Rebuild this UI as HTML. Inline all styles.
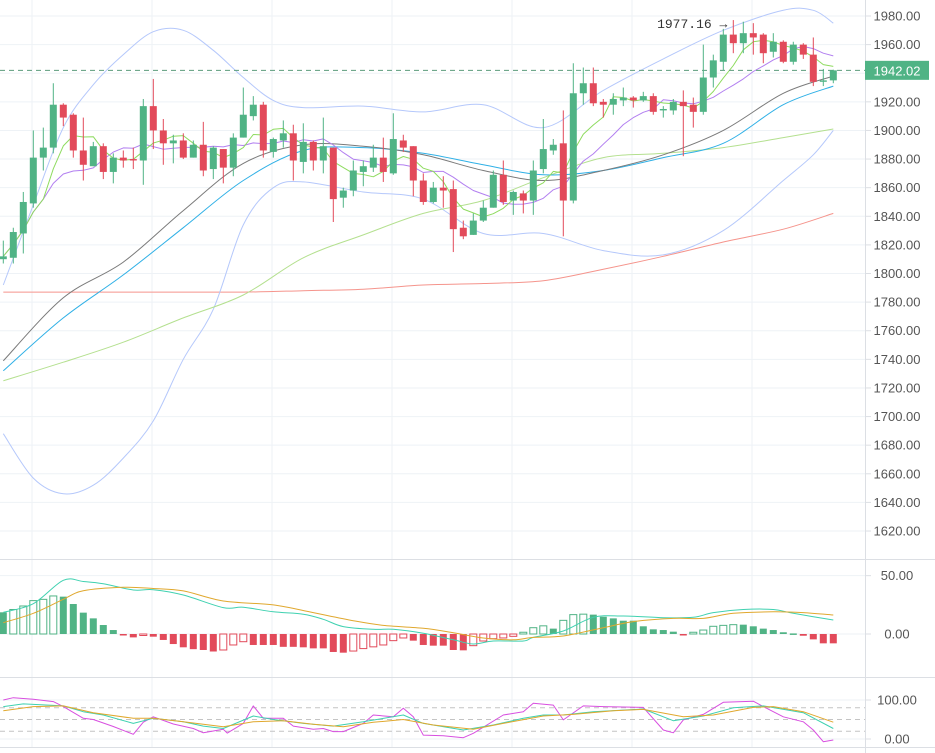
<!DOCTYPE html>
<html><head><meta charset="utf-8"><style>
html,body{margin:0;padding:0;background:#fff;}
svg{display:block;font-family:"Liberation Sans",sans-serif;}
</style></head><body>
<svg id="chart" width="935" height="753" viewBox="0 0 935 753" xmlns="http://www.w3.org/2000/svg"></svg>
<script>
// ---- data ----
const opens  = [1810,1811,1828,1849,1881,1888,1918,1911,1886,1875,1889,1871,1881,1880,1879,1917,1900,1891,1893,1881,1890,1873,1887,1874,1895,1910,1918,1885,1893,1898,1878,1892,1879,1888,1853,1858,1871,1874,1881,1870,1893,1889,1865,1850,1860,1859,1832,1827,1837,1846,1869,1851,1856,1851,1873,1886,1891,1851,1926,1933,1920,1918,1921,1923,1921,1924,1914,1914,1920,1918,1913,1937,1948,1967,1961,1968,1967,1955,1962,1948,1960,1953,1934,1935];
const highs  = [1823,1832,1857,1900,1902,1933,1919,1912,1909,1892,1891,1884,1886,1888,1922,1936,1908,1897,1898,1893,1906,1889,1887,1898,1930,1924,1920,1895,1907,1904,1905,1893,1909,1888,1860,1879,1879,1890,1895,1912,1897,1889,1870,1864,1868,1865,1837,1842,1851,1872,1879,1858,1858,1879,1908,1894,1914,1947,1944,1944,1922,1926,1930,1924,1927,1926,1917,1922,1928,1923,1960,1953,1971,1977.16,1976,1975,1968,1968,1963,1962,1961,1965,1943,1942.5];
const lows   = [1807,1807,1814,1846,1872,1884,1903,1881,1865,1875,1866,1863,1874,1873,1862,1887,1876,1877,1880,1881,1868,1866,1863,1868,1895,1907,1881,1881,1888,1865,1870,1872,1870,1836,1846,1854,1861,1871,1864,1869,1885,1854,1848,1849,1846,1815,1824,1827,1836,1846,1848,1841,1842,1841,1870,1883,1826,1849,1918,1917,1909,1911,1917,1916,1920,1911,1909,1911,1882,1902,1911,1930,1942,1954,1954,1953,1947,1951,1947,1946,1950,1931,1931,1933];
const closes = [1812,1829,1850,1881,1888,1918,1909,1886,1876,1889,1871,1881,1879,1879,1917,1900,1891,1893,1881,1890,1872,1888,1874,1895,1911,1918,1886,1894,1898,1879,1892,1879,1889,1852,1858,1872,1875,1881,1871,1894,1888,1865,1850,1860,1858,1831,1826,1837,1846,1869,1850,1857,1851,1872,1887,1890,1851,1926,1933,1919,1918,1922,1923,1921,1924,1913,1915,1920,1917,1913,1937,1949,1967,1961,1968,1965,1954,1962,1948,1960,1953,1934,1935,1942.02];
const lastPrice = 1942.02;
const priceTicks = [1980,1960,1940,1920,1900,1880,1860,1840,1820,1800,1780,1760,1740,1720,1700,1680,1660,1640,1620];
// sampled overlay lines (candle index -> price)
const sampleIdx = [0,6,12,18,24,30,36,42,48,54,60,66,72,78,83];
const ma200Vals = [1787,1787,1787,1787,1787,1788,1789,1792,1793,1795,1803,1812,1822,1831,1842];
const ma20Vals  = [1739,1783,1808,1844,1877,1890,1889,1883,1872,1865,1872,1883,1900,1926,1938];
const emaVals   = [1732,1769,1799,1832,1865,1886,1888,1884,1876,1869,1872,1881,1891,1918,1931];
const ma60Vals  = [1725,1738,1752,1769,1785,1811,1827,1842,1851,1867,1881,1884,1888,1895,1901];
const bandIdx   = [0,3,6,9,12,15,18,21,24,27,30,36,42,48,54,60,66,72,78,81,83];
const bollUpper = [1792,1848,1902,1932,1953,1969,1970,1956,1937,1921,1916,1917,1913,1918,1902,1928,1950,1970,1984,1984,1975];
const bollLower = [1688,1657,1646,1652,1671,1697,1740,1775,1834,1860,1864,1857,1852,1828,1828,1816,1813,1830,1865,1883,1900];
// MACD
const macdHist = [18.6,21,24,28.6,29.7,32.6,32,25.7,18.3,13.4,7.7,3.4,-0.6,-2.9,-0.6,-2.3,-5.1,-8.6,-11.4,-13,-13.7,-15,-13.7,-9.4,-6.6,-9.4,-9.4,-9.4,-11,-11,-11.4,-12.3,-12.3,-15.4,-16,-14.6,-12.5,-11,-9.4,-5.7,-3.4,-5.7,-9.4,-10,-10,-13.7,-14,-10,-6,-4,-3.4,-2,1.5,5.4,7,4.6,11.7,16.6,17,16.6,14.8,13.4,11.4,11.4,6.6,4,3.4,2,-1,1.5,3.4,6.6,7.4,8,8,6.6,4.6,3.4,1.5,0.5,-1.5,-4.6,-8,-8];
const macdTicks = [50,0];
const difIdx  = [0,3,6,8,10,13,15,18,22,24,27,30,32,34,37,39,42,45,47,49,52,53,56,59,62,66,69,71,74,77,79,83];
const difVals = [18.6,26,46,45,43,37.7,38,33.4,22.6,23,19,17,12.6,6.3,4,4,0.6,-5,-8.6,-6,-6,-2.9,2.6,14.3,15.4,14,14.3,18.3,21,21,17.7,12];
const deaIdx  = [0,3,6,8,12,15,18,22,27,31,35,38,42,45,48,51,53,56,60,63,67,70,73,77,80,83];
const deaVals = [9.7,17.7,29.7,37,40,39,36.9,28.3,24.9,18.3,11.4,7.4,4.9,1.1,-3.4,-5,-2.9,-1.7,5.4,10.6,13.4,13.4,17.7,19,18.3,16.3];
// KDJ
const kdjTicks = [100,0];
const kdjLevels = [80,50,20];
const jIdx  = [0,1,3,5,6,8,9,11,13,14,15,17,19,20,22,22.4,24,25,26,28,29,31,32,33,34,36,37,39,40,41,42,44,46,47,50,52,53,55,56,58,60,64,66,67,68,70,72,75,76,78,80,81,82,83];
const jVals = [100,106,102,96,83,53,50,32,12,43,57,38.5,27,16,25,15,40,85,53,53,33,25,27,19,19,40,61.5,57,79,57,10,8.5,3.4,14.5,61.5,70,91.5,87,49,85,83,81,23,16,49,63,94,97,83,57,44,23,-7,-2.6];
const kIdx  = [0,2,6,8,10,13,15,18,20,22,25,27,30,33,36,40,42,46,49,52,54,56,59,64,67,70,73,76,80,83];
const kVals = [83,90,85,70,61.5,40,53,44,33,27,59,50,40,33,44,61.5,40,23,36,53,61.5,61.5,70,77,47,59,80,85,67.5,27];
const dIdx  = [0,3,6,9,13,15,18,22,25,28,31,34,37,40,43,47,50,54,57,61,64,68,71,75,77,80,83];
const dVals = [72.6,83,85,67.5,53,53,44,31.6,44,47,37.6,31.6,42.7,50,36,25,40,59,63,72.6,76,57,61.5,81,83,70,43];

// ---- scales ----
const xC = i => 3.3 + 10*i;
const yP = p => 16 + (1980 - p) * 1.4306;
const yM = v => 634 - v * 1.167;
const yK = v => 739 - v * 0.39;
const NS = 'http://www.w3.org/2000/svg';
const svg = document.getElementById('chart');
const GREEN = '#50b385', RED = '#e24a5a';
function mk(tag, attrs, parent){
  const e = document.createElementNS(NS, tag);
  for (const k in attrs) e.setAttribute(k, attrs[k]);
  (parent||svg).appendChild(e);
  return e;
}
function ma(n){
  return closes.map((c,i)=>{const s=closes.slice(Math.max(0,i-n+1),i+1);return s.reduce((a,b)=>a+b,0)/s.length;});
}
function poly(idx, vals, yf, color, name, w){
  const pts = idx.map((ix,k)=>xC(ix).toFixed(1)+','+yf(vals[k]).toFixed(1)).join(' ');
  const l = mk('polyline',{points:pts,fill:'none',stroke:color,'stroke-width':w||1,'stroke-linejoin':'round'});
  
  
  return l;
}
function smooth(idx, vals, yf, color, name){
  const P = idx.map((ix,k)=>[xC(ix), yf(vals[k])]);
  let d = 'M'+P[0][0].toFixed(1)+','+P[0][1].toFixed(1);
  for (let i=0;i<P.length-1;i++){
    const p0=P[Math.max(0,i-1)], p1=P[i], p2=P[i+1], p3=P[Math.min(P.length-1,i+2)];
    const c1=[p1[0]+(p2[0]-p0[0])/6, p1[1]+(p2[1]-p0[1])/6];
    const c2=[p2[0]-(p3[0]-p1[0])/6, p2[1]-(p3[1]-p1[1])/6];
    d += ' C'+c1[0].toFixed(1)+','+c1[1].toFixed(1)+' '+c2[0].toFixed(1)+','+c2[1].toFixed(1)+' '+p2[0].toFixed(1)+','+p2[1].toFixed(1);
  }
  const l = mk('path',{d:d,fill:'none',stroke:color,'stroke-width':1});
  
  
  return l;
}

// ---- grid ----
const grid = mk('g',{});


[32,152,272,392,512,632,752].forEach(x=>mk('line',{x1:x,y1:0,x2:x,y2:747,stroke:'#eef2f6','stroke-width':1},grid));
priceTicks.forEach(p=>mk('line',{x1:0,y1:yP(p),x2:865,y2:yP(p),stroke:'#eef2f6'},grid));
macdTicks.forEach(v=>mk('line',{x1:0,y1:yM(v),x2:865,y2:yM(v),stroke:'#eef2f6'},grid));
kdjTicks.forEach(v=>mk('line',{x1:0,y1:yK(v),x2:865,y2:yK(v),stroke:'#eef2f6'},grid));
kdjLevels.forEach(v=>mk('line',{x1:0,y1:yK(v),x2:865,y2:yK(v),stroke:'#c4c4c4','stroke-dasharray':'5,4'},grid));
mk('line',{x1:0,y1:559.5,x2:935,y2:559.5,stroke:'#dcdfe4'});
mk('line',{x1:0,y1:677.5,x2:935,y2:677.5,stroke:'#dcdfe4'});
mk('line',{x1:0,y1:747.5,x2:935,y2:747.5,stroke:'#dcdfe4'});
const axisLine = mk('line',{x1:865.5,y1:0,x2:865.5,y2:753,stroke:'#dcdfe4'});



// ---- overlays ----
smooth(sampleIdx, ma200Vals, yP, '#f5948c', 'ma200-line');
smooth(bandIdx, bollUpper, yP, '#b5c8fb', 'bollinger-upper');
smooth(bandIdx, bollLower, yP, '#b5c8fb', 'bollinger-lower');
smooth(sampleIdx, ma60Vals, yP, '#b4e08f', 'ma60-line');
smooth(sampleIdx, emaVals, yP, '#2fb0e6', 'ema-line');
smooth(sampleIdx, ma20Vals, yP, '#7a7a7a', 'ma20-line');
const allIdx = closes.map((c,i)=>i);
poly(allIdx, ma(10), yP, '#b27ff0', 'ma10-line');
poly(allIdx, ma(5), yP, '#8edb5f', 'ma5-line');

const lp = mk('line',{x1:0,y1:yP(lastPrice),x2:865,y2:yP(lastPrice),stroke:'#5c9c7c','stroke-dasharray':'5,4'});



// ---- candles ----
closes.forEach((c,i)=>{
  const o=opens[i], up=c>=o, col=up?GREEN:RED, x=xC(i);
  const g = mk('g',{});
  
  
  mk('line',{x1:x,y1:yP(highs[i]),x2:x,y2:yP(lows[i]),stroke:col,'stroke-width':1},g);
  const top=yP(Math.max(o,c)), bot=yP(Math.min(o,c));
  mk('rect',{x:x-3.5,y:top,width:7,height:Math.max(1.2,bot-top),fill:col},g);
});

const hiIdx = highs.indexOf(Math.max(...highs));
const ann = mk('text',{x:xC(hiIdx)-6,y:yP(highs[hiIdx])+8,'text-anchor':'end','font-size':'13','font-family':'"Liberation Mono",monospace',fill:'#333'});
ann.textContent = highs[hiIdx].toFixed(2)+' →';



// ---- MACD ----
macdHist.forEach((v,i)=>{
  const prev = i>0?macdHist[i-1]:v;
  const col = v>=0?GREEN:RED;
  const hollow = v>prev;
  const y0=yM(0), y1=yM(v);
  const r = mk('rect',{x:xC(i)-3.5,y:Math.min(y0,y1),width:7,height:Math.max(1.5,Math.abs(y1-y0)),
    fill:hollow?'#fff':col,stroke:col,'stroke-width':hollow?1:0});
  
  
});
smooth(difIdx, difVals, yM, '#3fd1b0', 'macd-dif-line');
smooth(deaIdx, deaVals, yM, '#e0a82e', 'macd-dea-line');

// ---- KDJ ----
poly(jIdx, jVals, yK, '#d84fe0', 'kdj-j-line');
poly(kIdx, kVals, yK, '#3fd1b0', 'kdj-k-line');
poly(dIdx, dVals, yK, '#e0a82e', 'kdj-d-line');

// ---- axis labels ----
function label(txt,y,name){
  mk('line',{x1:865,y1:y,x2:871,y2:y,stroke:'#dcdfe4'});
  const t = mk('text',{x:897,y:y+4.5,'text-anchor':'middle','font-size':'13',fill:'#555'});
  t.textContent = txt;
  
  
}
priceTicks.forEach(p=>label(p.toFixed(2), yP(p), 'price-tick-label'));
macdTicks.forEach(v=>label(v.toFixed(2), yM(v), 'macd-tick-label'));
kdjTicks.forEach(v=>label(v.toFixed(2), yK(v), 'kdj-tick-label'));

const tag = mk('g',{});


mk('rect',{x:865,y:yP(lastPrice)-9.5,width:64,height:19,fill:'#50b385'},tag);
const tt = mk('text',{x:897,y:yP(lastPrice)+5,'text-anchor':'middle','font-size':'13',fill:'#fff'},tag);
tt.textContent = lastPrice.toFixed(2);
</script>
</body></html>
